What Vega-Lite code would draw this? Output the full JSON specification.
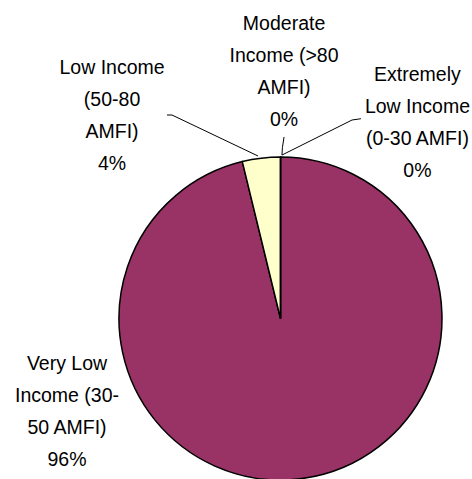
{
  "$schema": "https://vega.github.io/schema/vega-lite/v6.json",
  "width": 383,
  "height": 321,
  "autosize": "none",
  "padding": {"left": 89, "top": 158, "right": 0, "bottom": 0},
  "background": "white",
  "config": {"view": {"stroke": null}},
  "datasets": {
    "slices": [
      {"idx": 1, "category": "Extremely Low Income (0-30 AMFI)", "value": 0},
      {"idx": 2, "category": "Very Low Income (30-50 AMFI)", "value": 96.2},
      {"idx": 3, "category": "Low Income (50-80 AMFI)", "value": 3.8},
      {"idx": 4, "category": "Moderate Income (>80 AMFI)", "value": 0}
    ],
    "leaders": [
      {"label": "Low", "seq": 1, "x": -70.3, "y": 126.0},
      {"label": "Low", "seq": 2, "x": -67.2, "y": 126.0},
      {"label": "Low", "seq": 3, "x": -13.9, "y": 100.6},
      {"label": "Moderate", "seq": 1, "x": 2.2, "y": 112.4},
      {"label": "Moderate", "seq": 2, "x": 1.2, "y": 106.0},
      {"label": "Moderate", "seq": 3, "x": 0.9, "y": 101.2},
      {"label": "Extremely", "seq": 1, "x": 49.8, "y": 123.7},
      {"label": "Extremely", "seq": 2, "x": 44.3, "y": 122.9},
      {"label": "Extremely", "seq": 3, "x": 0.9, "y": 101.2}
    ],
    "labels": [
      {"text": "Moderate\nIncome (>80\nAMFI)\n0%", "x": 2.2, "y": 178.6},
      {"text": "Extremely\nLow Income\n(0-30 AMFI)\n0%", "x": 84.8, "y": 147.1},
      {"text": "Low Income\n(50-80\nAMFI)\n4%", "x": -104.3, "y": 151.4},
      {"text": "Very Low\nIncome (30-\n50 AMFI)\n96%", "x": -132.2, "y": -31.9}
    ]
  },
  "layer": [
    {
      "data": {"name": "slices"},
      "mark": {"type": "arc", "outerRadius": 161.5, "stroke": "black", "strokeWidth": 1.5},
      "encoding": {
        "theta": {"field": "value", "type": "quantitative", "stack": true},
        "order": {"field": "idx", "type": "quantitative"},
        "color": {
          "field": "category",
          "type": "nominal",
          "legend": null,
          "scale": {
            "domain": ["Extremely Low Income (0-30 AMFI)", "Very Low Income (30-50 AMFI)", "Low Income (50-80 AMFI)", "Moderate Income (>80 AMFI)"],
            "range": ["#9999FF", "#993366", "#FFFFCC", "#CCFFFF"]
          }
        }
      }
    },
    {
      "data": {"name": "leaders"},
      "mark": {"type": "line", "color": "black", "strokeWidth": 1},
      "encoding": {
        "x": {"field": "x", "type": "quantitative", "axis": null, "scale": {"domain": [-118.58, 118.58], "nice": false, "zero": false}},
        "y": {"field": "y", "type": "quantitative", "axis": null, "scale": {"domain": [-99.38, 99.38], "nice": false, "zero": false}},
        "detail": {"field": "label"},
        "order": {"field": "seq", "type": "quantitative"}
      }
    },
    {
      "data": {"name": "labels"},
      "mark": {"type": "text", "lineBreak": "\n", "lineHeight": 32, "baseline": "alphabetic", "align": "center", "font": "Liberation Sans", "fontSize": 19.5, "color": "black"},
      "encoding": {
        "x": {"field": "x", "type": "quantitative", "axis": null, "scale": {"domain": [-118.58, 118.58], "nice": false, "zero": false}},
        "y": {"field": "y", "type": "quantitative", "axis": null, "scale": {"domain": [-99.38, 99.38], "nice": false, "zero": false}},
        "text": {"field": "text"}
      }
    }
  ]
}
